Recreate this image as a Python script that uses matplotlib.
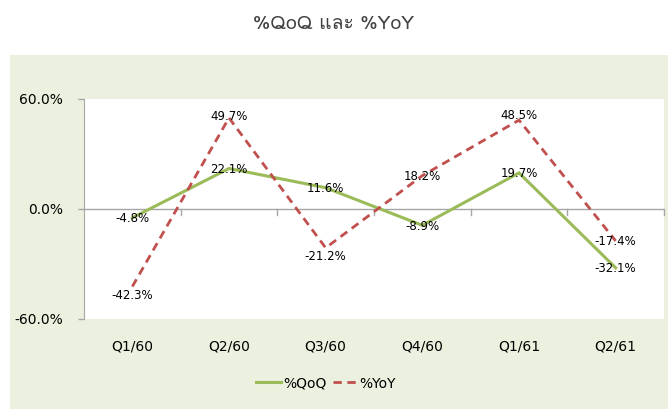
import matplotlib
matplotlib.use("Agg")
import matplotlib.pyplot as plt
from matplotlib import font_manager
from matplotlib.ft2font import FT2Font
from matplotlib.patches import Rectangle
from matplotlib.lines import Line2D

categories = ["Q1/60", "Q2/60", "Q3/60", "Q4/60", "Q1/61", "Q2/61"]
qoq = [-4.8, 22.1, 11.6, -8.9, 19.7, -32.1]
yoy = [-42.3, 49.7, -21.2, 18.2, 48.5, -17.4]
yticks = [-60, 0, 60]
title = "%QoQ และ %YoY"

# label vertical offsets in pixels (style only)
qoq_off = [0, 0, 0, 0, 0, 0]
yoy_off = [-8, 2, -8, 0, 6, 0]

# find a font with Thai glyphs
thai_family = None
for f in font_manager.fontManager.ttflist:
    try:
        cm = FT2Font(f.fname).get_charmap()
        if 0x0E41 in cm and 0x0E30 in cm and 0x0E25 in cm:
            thai_family = f.name
            break
    except Exception:
        pass
title_fams = ([thai_family] if thai_family else []) + ["DejaVu Sans"]

GREEN = "#9BBB59"
RED = "#C0504D"
BEIGE = "#EBF1DE"
AXC = "#A6A6A6"

W, H = 668, 410
fig = plt.figure(figsize=(W / 100, H / 100), dpi=100)
fig.patch.set_facecolor("white")
bg = Rectangle((10 / W, 0), 1 - 10 / W, 1 - 56 / H, transform=fig.transFigure,
               facecolor=BEIGE, edgecolor="none", zorder=-10)
fig.add_artist(bg)

ax = fig.add_axes([84 / W, 1 - 320 / H, (664 - 84) / W, 220 / H])
ax.set_zorder(5)
ax.set_facecolor("white")
x = list(range(len(categories)))
ax.set_xlim(-0.5, len(categories) - 0.5)
ax.set_ylim(-60, 60)

ax.plot(x, qoq, color=GREEN, lw=2.2, solid_joinstyle="miter", zorder=3)
ax.plot(x, yoy, color=RED, lw=2.0, dashes=(3, 2), zorder=3)

for i, v in enumerate(qoq):
    ax.annotate(f"{v:.1f}%", (i, v), xytext=(0, qoq_off[i]), textcoords="offset pixels",
                ha="center", va="center", fontsize=8.5, color="black", zorder=4)
for i, v in enumerate(yoy):
    ax.annotate(f"{v:.1f}%", (i, v), xytext=(0, yoy_off[i]), textcoords="offset pixels",
                ha="center", va="center", fontsize=8.5, color="black", zorder=4)

for s in ["top", "right", "bottom"]:
    ax.spines[s].set_visible(False)
ax.spines["left"].set_color(AXC)
ax.axhline(0, color=AXC, lw=1, zorder=2)
# category boundary ticks on zero line
for b in range(1, len(categories) + 1):
    ax.plot([b - 0.5, b - 0.5], [0, -3], color=AXC, lw=1, zorder=2, clip_on=False)

ax.set_yticks(yticks)
ax.set_yticklabels([])
ax.tick_params(axis="y", length=4.5, color=AXC, width=1)
for t in yticks:
    ax.annotate(f"{t:.1f}%", (0, t), xycoords=ax.get_yaxis_transform(),
                xytext=(-21, 0), textcoords="offset pixels", ha="right", va="center",
                fontsize=10, color="black", annotation_clip=False)

ax.set_xticks(x)
ax.set_xticklabels(categories, fontsize=10)
ax.tick_params(axis="x", length=0, pad=14)

fig.text(0.5, 1 - 24 / H, title, ha="center", va="center", fontsize=14,
         family=title_fams, color="#404040")

handles = [Line2D([], [], color=GREEN, lw=2.2),
           Line2D([], [], color=RED, lw=2.0, dashes=(3, 2))]
leg = fig.legend(handles, ["%QoQ", "%YoY"], loc="center", bbox_to_anchor=(326 / W, 1 - 384 / H),
                 ncol=2, frameon=False, fontsize=10, handlelength=1.8, handletextpad=0.15,
                 columnspacing=0.45)

fig.savefig("out.png", dpi=100)
